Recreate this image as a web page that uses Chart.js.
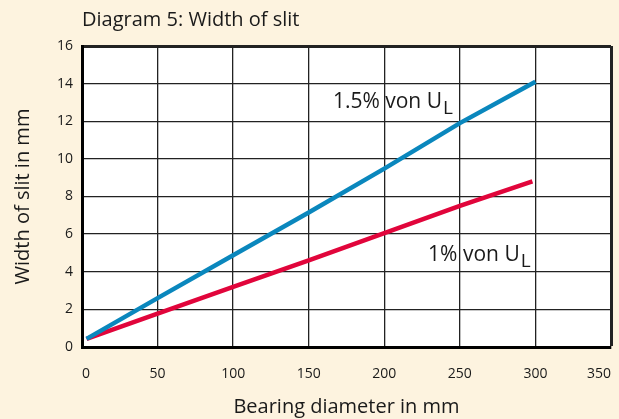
<!DOCTYPE html>
<html>
<head>
<meta charset="utf-8">
<script src="https://cdn.jsdelivr.net/npm/chart.js@4/dist/chart.umd.min.js"></script>
<style>
  html, body { margin: 0; padding: 0; background: #fdf3df; }
  #wrap { width: 619px; height: 419px; }
</style>
</head>
<body>
<div id="wrap"><canvas id="slitChart" width="619" height="419"></canvas></div>
<script>
// ── DATA ──
const xTicks = [0, 50, 100, 150, 200, 250, 300, 350];
const yTicks = [0, 2, 4, 6, 8, 10, 12, 14, 16];
const diamBlue = [3, 50, 100, 150, 200, 250, 300];
const slitBlue = [0.43, 2.6, 4.88, 7.15, 9.48, 11.9, 14.1];   // 1.5% von U_L
const diamRed = [3, 50, 100, 150, 200, 250, 298];
const slitRed = [0.43, 1.78, 3.2, 4.6, 6.05, 7.5, 8.8];       // 1% von U_L

const BLUE = '#0a87bd', RED = '#e1053b';
const FONT = 'Open Sans';

// label anchors (data coords: left edge / baseline)
const notes = [
  { main: '1.5% von U', sub: 'L', x: 166, y: 12.73 },
  { main: '1% von U', sub: 'L', x: 229, y: 4.55 }
];

// ── PLUGINS ──
const plotBg = {
  id: 'plotBg',
  beforeDraw(chart) {
    const { ctx, chartArea: a } = chart;
    ctx.save();
    ctx.fillStyle = '#ffffff';
    ctx.fillRect(a.left, a.top, a.right - a.left, a.bottom - a.top);
    ctx.restore();
  }
};

const lineNotes = {
  id: 'lineNotes',
  afterDatasetsDraw(chart) {
    const { ctx, scales: { x, y } } = chart;
    ctx.save();
    ctx.fillStyle = '#1a1a1a';
    ctx.textBaseline = 'alphabetic';
    ctx.textAlign = 'left';
    notes.forEach(n => {
      const px = x.getPixelForValue(n.x), py = y.getPixelForValue(n.y);
      ctx.font = `21px "${FONT}"`;
      ctx.fillText(n.main, px, py);
      const w = ctx.measureText(n.main).width;
      ctx.font = `19px "${FONT}"`;
      ctx.fillText(n.sub, px + w + 1, py + 6);
    });
    ctx.restore();
  }
};

Chart.defaults.font.family = FONT;
Chart.defaults.color = '#1a1a1a';

new Chart(document.getElementById('slitChart'), {
  type: 'line',
  data: {
    datasets: [
      { label: '1.5% von UL', data: diamBlue.map((d, i) => ({ x: d, y: slitBlue[i] })),
        borderColor: BLUE, borderWidth: 4.5, pointRadius: 0, tension: 0, borderCapStyle: 'butt' },
      { label: '1% von UL', data: diamRed.map((d, i) => ({ x: d, y: slitRed[i] })),
        borderColor: RED, borderWidth: 4.5, pointRadius: 0, tension: 0, borderCapStyle: 'butt' }
    ]
  },
  options: {
    responsive: false, animation: false, devicePixelRatio: 1,
    layout: { padding: { left: 0, right: 8, top: 0, bottom: 0 } },
    plugins: {
      legend: { display: false },
      tooltip: { enabled: false },
      title: { display: true, text: 'Diagram 5: Width of slit', align: 'start', fullSize: false,
        color: '#1a1a1a', font: { size: 20, weight: 'normal', lineHeight: 1.2 },
        padding: { top: 8, bottom: 14 } }
    },
    scales: {
      x: {
        type: 'linear', min: 0, max: 350,
        afterBuildTicks: s => { s.ticks = xTicks.map(v => ({ value: v })); },
        afterFit: s => { s.height = 72; s.paddingLeft = 0; s.paddingRight = 0; },
        ticks: { align: 'inner', padding: 19, font: { size: 14 }, color: '#1a1a1a' },
        grid: { color: '#222', drawTicks: false,
          lineWidth: c => c.tick && c.tick.value === 350 ? 3 : 1.3 },
        border: { color: '#000', width: 3 },
        title: { display: true, text: 'Bearing diameter in mm', color: '#1a1a1a',
          font: { size: 20 }, padding: { top: 0, bottom: 0 } }
      },
      y: {
        min: 0, max: 16,
        afterBuildTicks: s => { s.ticks = yTicks.map(v => ({ value: v })); },
        afterFit: s => { s.width = 82; },
        ticks: { padding: 9, font: { size: 14 }, color: '#1a1a1a' },
        grid: { color: '#222', drawTicks: false,
          lineWidth: c => c.tick && c.tick.value === 16 ? 3 : 1.3 },
        border: { color: '#000', width: 3 },
        title: { display: true, text: 'Width of slit in mm', color: '#1a1a1a',
          font: { size: 20 }, padding: { top: 11, bottom: 0 } }
      }
    }
  },
  plugins: [plotBg, lineNotes]
});
</script>
</body>
</html>
